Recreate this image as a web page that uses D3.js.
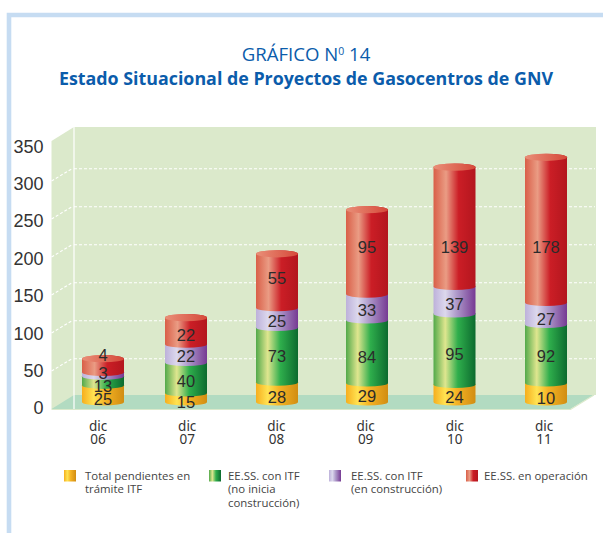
<!DOCTYPE html>
<html><head><meta charset="utf-8">
<script src="https://cdn.jsdelivr.net/npm/d3@7"></script>
<style>html,body{margin:0;padding:0;background:#fff}svg{display:block}</style>
</head><body><svg id="c" width="603" height="533"></svg>
<script>
// Categories and axis
const categories = ["06","07","08","09","10","11"];
const yTicks = [0,50,100,150,200,250,300,350];
// Printed values (labels in the reference)
const pendientes = [25,15,28,29,24,10];
const noInicia   = [13,40,73,84,95,92];
const enConstr   = [3,22,25,33,37,27];
const enOper     = [4,22,55,95,139,178];
// Plotted segment heights in axis units (the source bars are not to the scale of their labels)
const pendientesDrawn = [22,12,26,25,23,25];
const noIniciaDrawn   = [12,40,72,83,93,77];
const enConstrDrawn   = [5,24,26,34,36,29];
const enOperDrawn     = [18,35,71,111,157,191];
// Axis level at which each printed label sits in the picture
const pendientesLevel = [4,0,6,8,7,5];
const noIniciaLevel   = [21,28,60,59,63,60];
const enConstrLevel   = [38,60,107,121,129,109];
const enOperLevel     = [62,88,163,204,204,204];
const legendLabels = [["Total pendientes en","trámite ITF"],["EE.SS. con ITF","(no inicia","construcción)"],["EE.SS. con ITF","(en construcción)"],["EE.SS. en operación"]];
const titleTop = "GRÁFICO N";
const titleMain = "Estado Situacional de Proyectos de Gasocentros de GNV";

const keys = ["p","n","c","o"];
const svg = d3.select("#c");
const BLUE = "#0b5cab";

// frame
svg.append("path").attr("d","M9 533V15H603").attr("fill","none").attr("stroke","#c6dcf2").attr("stroke-width",4.6);

// titles
const t1 = svg.append("text").attr("x",306).attr("y",60.5).attr("text-anchor","middle")
  .attr("font-family","'Open Sans'").attr("font-size",18.6).attr("fill",BLUE);
t1.append("tspan").text(titleTop);
t1.append("tspan").text("0").attr("font-size",10.5).attr("dy",-6);
t1.append("tspan").text(" 14").attr("dy",6);
svg.append("text").attr("x",306).attr("y",85).attr("text-anchor","middle")
  .attr("font-family","'Open Sans'").attr("font-weight",700).attr("font-size",18).attr("fill",BLUE)
  .attr("textLength",494).attr("lengthAdjust","spacingAndGlyphs").text(titleMain);

// scales
const yFront = d3.scaleLinear().domain([0,350]).range([409,143]);
const yBack  = d3.scaleLinear().domain([0,350]).range([396.7,130.7]);
const yBar   = d3.scaleLinear().domain([0,350]).range([402,136]);
const yLabel = d3.scaleLinear().domain([0,350]).range([408,146.5]);
const xBar   = d3.scaleOrdinal().domain(categories).range([103,186,277,367,454.5,546]);
const xTick  = d3.scalePoint().domain(categories).range([98,544]);

// walls
const WALL="#dbe9cb", FLOOR="#b2dbc1";
const xl0=51.5, xl1=74, xr1=596;
svg.append("rect").attr("x",xl1).attr("y",127).attr("width",xr1-xl1).attr("height",268).attr("fill",WALL);
svg.append("polygon").attr("points",`${xl0},141 ${xl1},127 ${xl1},409 ${xl0},409`).attr("fill",WALL);
svg.append("polygon").attr("points",`${xl0},409 ${xl1},395 594,395 570.5,409`).attr("fill",FLOOR);
svg.append("path").attr("d",`M${xl0} 409.5H570.5L594 395`).attr("fill","none").attr("stroke",WALL).attr("stroke-width",1.2);
svg.append("line").attr("x1",xl1).attr("x2",xl1).attr("y1",127).attr("y2",409).attr("stroke","#fff").attr("stroke-width",1.2);

// gridlines
const grid = yTicks.filter(v=>v>0 && v<350);
svg.append("g").selectAll("line").data(grid).join("line")
  .attr("x1",xl1).attr("x2",xr1-1).attr("y1",d=>yBack(d)).attr("y2",d=>yBack(d))
  .attr("stroke","#fff").attr("stroke-width",1.1).attr("stroke-dasharray","3 2");
svg.append("g").selectAll("line").data(grid).join("line")
  .attr("x1",xl0).attr("x2",xl1-2).attr("y1",d=>yFront(d)).attr("y2",d=>yBack(d))
  .attr("stroke","#fff").attr("stroke-width",1.1).attr("stroke-dasharray","3 2");

// gradients
const defs = svg.append("defs");
const grads = {
 p:[[0,"#f6ae1e"],[.28,"#ffe352"],[.55,"#f5b324"],[1,"#d18d12"]],
 n:[[0,"#52a94a"],[.28,"#dfe68f"],[.58,"#2fae4c"],[1,"#0c6a2e"]],
 c:[[0,"#bdb1da"],[.28,"#dcd8ed"],[.55,"#ae9aca"],[1,"#763a93"]],
 o:[[0,"#d95f48"],[.3,"#ea9c84"],[.6,"#cb1e26"],[1,"#b3161e"]],
 top:[[0,"#e98f78"],[1,"#d6493a"]]
};
Object.entries(grads).forEach(([k,stops])=>{
  const g=defs.append("linearGradient").attr("id","g"+k);
  stops.forEach(s=>g.append("stop").attr("offset",s[0]).attr("stop-color",s[1]));
});

// axis
const ax = svg.append("g").attr("transform","translate(43.5,0)")
  .call(d3.axisLeft(yLabel).tickValues(yTicks).tickSize(0).tickPadding(0));
ax.select(".domain").remove();
ax.selectAll("text").attr("font-family","'Liberation Sans'").attr("font-size",18).attr("fill","#333");

// category labels
const cat = svg.append("g").selectAll("text").data(categories).join("text")
  .attr("text-anchor","middle").attr("font-family","'Noto Sans'").attr("font-size",13.5).attr("fill","#333")
  .attr("transform",d=>`translate(${xTick(d)},0)`);
cat.append("tspan").attr("x",0).attr("y",431).text("dic");
cat.append("tspan").attr("x",0).attr("y",444).text(d=>d);

// stacked cylinders
const rows = categories.map((c,i)=>({cat:c,p:pendientesDrawn[i],n:noIniciaDrawn[i],c:enConstrDrawn[i],o:enOperDrawn[i]}));
const series = d3.stack().keys(keys)(rows);
const rx=21, ry=3.6;
const cyl=(x,t,b)=>`M${x-rx} ${t}V${b}A${rx} ${ry} 0 0 0 ${x+rx} ${b}V${t}A${rx} ${ry} 0 0 0 ${x-rx} ${t}Z`;
series.forEach(s=>{
  svg.append("g").selectAll("path").data(s).join("path")
    .attr("d",d=>cyl(xBar(d.data.cat),yBar(d[1]),yBar(d[0])))
    .attr("fill",`url(#g${s.key})`);
});
svg.append("g").selectAll("ellipse").data(series[3]).join("ellipse")
  .attr("cx",d=>xBar(d.data.cat)).attr("cy",d=>yBar(d[1])).attr("rx",rx).attr("ry",ry)
  .attr("fill","url(#gtop)");

// printed labels
[[pendientes,pendientesLevel],[noInicia,noIniciaLevel],[enConstr,enConstrLevel],[enOper,enOperLevel]].forEach(([vals,lev])=>{
  svg.append("g").selectAll("text").data(vals).join("text")
    .attr("x",(d,i)=>xBar(categories[i])).attr("y",(d,i)=>yBar(lev[i]))
    .attr("dy","0.36em").attr("text-anchor","middle")
    .attr("font-family","'Liberation Sans'").attr("font-size",16.5).attr("fill","#2b2b2b").text(d=>d);
});

// legend
const lx = d3.scaleOrdinal().domain(keys).range([64,209,329,466]);
const ltx = d3.scaleOrdinal().domain(keys).range([85,228,351,484]);
keys.forEach((k,i)=>{
  svg.append("rect").attr("x",lx(k)).attr("y",470).attr("width",12).attr("height",11.5).attr("fill",`url(#g${k})`);
  const t=svg.append("text").attr("font-family","'Open Sans'").attr("font-size",11.4).attr("fill","#444");
  legendLabels[i].forEach((line,j)=>t.append("tspan").attr("x",ltx(k)).attr("y",480+j*13.4).text(line));
});
</script></body></html>
